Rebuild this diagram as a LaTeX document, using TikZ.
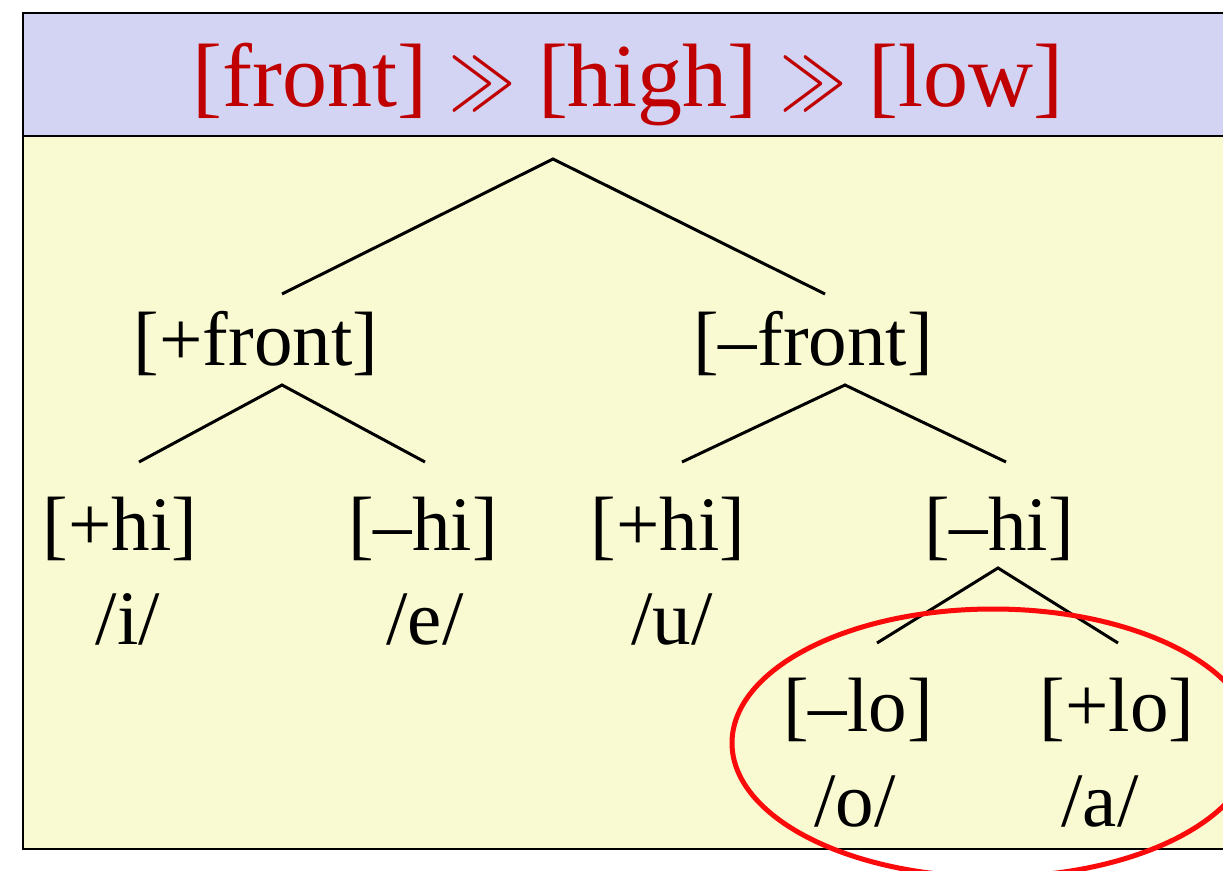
\documentclass[tikz,border=0pt]{standalone}
\usepackage{fontspec}
\setmainfont{Liberation Serif}
\definecolor{bandfill}{RGB}{211,211,243}
\definecolor{bodyfill}{RGB}{250,250,210}
\definecolor{titlered}{RGB}{192,0,0}
\definecolor{ringred}{RGB}{250,10,10}
% tall, thin "much greater than" sign for the ranking
\newcommand{\ranked}{\scalebox{6.6}[9]{\normalsize$\gg$}}

\begin{document}
\begin{tikzpicture}[x=1pt,y=-1pt,
  lbl/.style={anchor=base, inner sep=0pt, font=\fontsize{77}{80}\selectfont},
  titletext/.style={anchor=base, inner sep=0pt, text=titlered, font=\fontsize{90}{92}\selectfont},
  branch/.style={line width=3pt},
  frame/.style={line width=2pt}]
\useasboundingbox (0,0) rectangle (1223,870);
\clip (0,0) rectangle (1223,870);

% panel: title band over the tree area
\fill[bodyfill] (23,136) rectangle (1240,849);
\fill[bandfill] (23,13) rectangle (1240,136);
\draw[frame] (23,13) rectangle (1240,849);
\draw[frame] (23,136) -- (1240,136);

\node[titletext] (title) at (628,106) {[front] \ranked{} [high] \ranked{} [low]};

% tree labels
\node[lbl] (pf)   at (256,365) {[+front]};
\node[lbl] (mf)   at (813,365) {[–front]};
\node[lbl] (phi1) at (120,550) {[+hi]};
\node[lbl] (mhi1) at (423,550) {[–hi]};
\node[lbl] (phi2) at (668,550) {[+hi]};
\node[lbl] (mhi2) at (999,550) {[–hi]};
\node[lbl] (i)    at (128,644) {/i/};
\node[lbl] (e)    at (425,644) {/e/};
\node[lbl] (u)    at (672,644) {/u/};
\node[lbl] (mlo)  at (858,731) {[–lo]};
\node[lbl] (plo)  at (1117,731) {[+lo]};
\node[lbl] (o)    at (855,826) {/o/};
\node[lbl] (a)    at (1100,826) {/a/};

% branch ends
\coordinate (root)     at (553,159);
\coordinate (pf-top)   at (282,294);
\coordinate (mf-top)   at (825,294);
\coordinate (pf-bot)   at (282,385);
\coordinate (phi1-top) at (139,462);
\coordinate (mhi1-top) at (425,462);
\coordinate (mf-bot)   at (845,385);
\coordinate (phi2-top) at (682,462);
\coordinate (mhi2-top) at (1006,462);
\coordinate (mhi2-bot) at (998,568);
\coordinate (mlo-top)  at (877,643);
\coordinate (plo-top)  at (1118,643);

\draw[branch] (pf-top) -- (root) -- (mf-top);
\draw[branch] (phi1-top) -- (pf-bot) -- (mhi1-top);
\draw[branch] (phi2-top) -- (mf-bot) -- (mhi2-top);
\draw[branch] (mlo-top) -- (mhi2-bot) -- (plo-top);

% highlight round the low vowels
\draw[ringred, line width=5pt] (993,743) ellipse [x radius=261pt, y radius=134pt];
\end{tikzpicture}
\end{document}
